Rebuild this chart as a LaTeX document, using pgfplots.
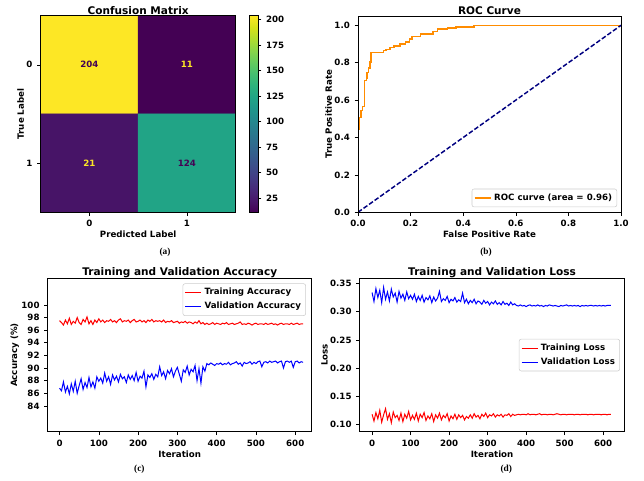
\documentclass[border=0pt]{standalone}
\usepackage{fontspec}
\setmainfont{DejaVu Sans}
\newfontfamily\capfont{Liberation Serif}
\usepackage{pgfplots}
\usepackage{pgfplotstable}
\pgfplotsset{compat=1.18}

\newcommand\tkf{\fontsize{6.5}{7.5}\selectfont\bfseries}
\newcommand\ttf{\fontsize{7.9}{9}\selectfont\bfseries}
\newcommand\capf{\capfont\fontsize{7}{8}\selectfont\bfseries}

\definecolor{darkorange}{HTML}{FF8C00}
\definecolor{mplnavy}{HTML}{000080}
\definecolor{vpurple}{HTML}{440154}
\definecolor{vyellow}{HTML}{FDE725}

\pgfplotsset{
  mpl/.style={
    scale only axis, anchor=south west, axis on top,
    axis line style={black, line width=0.45pt},
    tick align=outside, xtick pos=bottom, ytick pos=left,
    major tick length=2.6pt, tick style={black, line width=0.45pt},
    ticklabel style={font=\tkf}, label style={font=\tkf},
    title style={font=\ttf, at={(0.5,1)}, anchor=base, yshift=-4.8pt},
    ylabel shift=-5pt, xlabel shift=-3.6pt,
    /pgf/number format/assume math mode=true,
    legend style={font=\tkf, draw=black!20, rounded corners=1.5pt, fill=white,
      inner sep=1.5pt, row sep=0pt},
    legend cell align=left,
    legend image code/.code={\draw[##1] (0pt,0pt) -- (12pt,0pt);},
  }
}

% it, train acc, val acc, train loss, val loss
\pgfplotstableread{
it ta va tl vl
0 97.5 86.8 0.118 0.334
5 97.2 86.4 0.106 0.318
10 96.8 87.8 0.121 0.341
15 97.6 86.2 0.110 0.325
20 97.0 87.1 0.125 0.338
25 97.9 85.9 0.104 0.316
30 96.9 87.5 0.117 0.343
35 97.4 86.3 0.128 0.322
40 97.1 87.9 0.109 0.335
45 98.0 86.0 0.119 0.319
50 97.2 87.2 0.103 0.340
55 96.9 88.3 0.122 0.326
60 97.7 86.6 0.112 0.333
65 97.3 87.7 0.116 0.317
70 98.1 86.9 0.107 0.336
75 97.0 88.5 0.120 0.324
80 97.5 87.0 0.105 0.331
85 96.9 87.8 0.118 0.320
90 97.6 86.8 0.111 0.335
95 97.2 88.6 0.123 0.323
100 97.8 87.9 0.108 0.329
105 97.3 88.4 0.116 0.322
110 97.6 87.6 0.109 0.331
115 97.2 89.2 0.120 0.318
120 97.5 87.9 0.106 0.327
125 97.4 88.6 0.118 0.320
130 97.7 87.4 0.112 0.329
135 97.3 88.9 0.121 0.317
140 97.5 88.1 0.107 0.325
145 97.2 88.7 0.115 0.321
150 97.6 87.8 0.110 0.328
155 97.8 89.0 0.119 0.316
160 97.3 88.3 0.105 0.326
165 97.5 88.6 0.117 0.319
170 97.4 87.7 0.111 0.324
175 97.6 88.9 0.120 0.336
180 97.2 88.2 0.108 0.318
185 97.5 88.8 0.116 0.323
190 97.7 88.0 0.112 0.320
195 97.3 89.3 0.119 0.327
200 97.4 87.9 0.106 0.316
205 97.6 88.7 0.115 0.322
210 97.3 88.4 0.110 0.319
215 97.5 89.5 0.118 0.325
220 97.2 87.0 0.109 0.317
225 97.6 88.9 0.117 0.321
230 97.4 88.5 0.112 0.318
235 97.7 89.1 0.116 0.333
240 97.3 88.2 0.108 0.316
245 97.5 89.0 0.114 0.322
250 97.4 88.6 0.111 0.314
255 97.5 90.2 0.117 0.320
260 97.3 88.8 0.111 0.316
265 97.6 89.4 0.119 0.322
270 97.2 88.3 0.113 0.314
275 97.4 89.6 0.116 0.319
280 97.3 89.1 0.110 0.317
285 97.5 89.9 0.118 0.313
290 97.2 88.6 0.114 0.320
295 97.3 89.5 0.120 0.315
300 97.4 90.1 0.112 0.318
305 97.1 89.0 0.117 0.312
310 97.3 87.9 0.115 0.317
315 97.2 89.7 0.119 0.314
320 97.4 89.3 0.113 0.319
325 97.1 90.3 0.117 0.313
330 97.3 88.9 0.115 0.316
335 97.2 89.8 0.118 0.312
340 97.0 89.4 0.113 0.318
345 97.3 90.4 0.117 0.313
350 97.1 88.0 0.116 0.315
355 97.5 89.9 0.119 0.311
360 97.0 87.6 0.114 0.317
365 97.2 90.2 0.118 0.312
370 96.9 89.5 0.116 0.314
375 97.1 90.7 0.117 0.311
380 96.9 90.5 0.118 0.310
385 97.0 90.8 0.117 0.312
390 97.2 90.6 0.118 0.310
395 96.9 90.4 0.118 0.311
400 97.1 90.7 0.117 0.309
405 97.0 90.6 0.119 0.311
410 96.9 90.8 0.117 0.312
415 97.1 90.5 0.118 0.310
420 97.0 90.7 0.118 0.311
425 97.2 90.6 0.117 0.310
430 96.9 90.9 0.118 0.312
435 97.0 90.5 0.119 0.310
440 97.1 90.7 0.117 0.311
445 96.9 90.8 0.118 0.309
450 97.0 91.0 0.118 0.311
455 97.1 90.6 0.117 0.310
460 97.3 90.8 0.118 0.312
465 96.9 90.3 0.118 0.311
470 97.0 90.9 0.117 0.310
475 96.9 90.7 0.118 0.311
480 97.1 90.8 0.119 0.310
485 97.0 91.0 0.118 0.309
490 96.8 90.6 0.117 0.311
495 97.0 90.9 0.118 0.310
500 97.1 90.7 0.118 0.311
505 96.9 91.0 0.117 0.312
510 97.0 91.1 0.118 0.310
515 97.0 90.2 0.118 0.311
520 96.9 90.9 0.118 0.310
525 97.1 91.0 0.117 0.311
530 96.9 90.8 0.118 0.310
535 97.0 91.1 0.118 0.311
540 97.1 90.9 0.117 0.309
545 96.9 91.0 0.118 0.311
550 97.0 91.1 0.118 0.310
555 96.8 90.8 0.118 0.311
560 97.0 91.0 0.117 0.310
565 97.1 91.1 0.118 0.311
570 96.9 90.0 0.118 0.311
575 97.0 91.0 0.117 0.310
580 97.0 91.1 0.118 0.311
585 96.9 90.9 0.118 0.310
590 97.1 91.1 0.118 0.311
595 96.9 90.1 0.117 0.310
600 97.0 91.0 0.118 0.311
605 97.1 91.1 0.118 0.310
610 96.9 90.8 0.117 0.311
615 97.0 91.0 0.118 0.311
620 97.0 90.9 0.118 0.311
}\hist

\begin{document}
\begin{tikzpicture}
\path[use as bounding box] (0,0) rectangle (483pt,360pt);

% (a) confusion matrix
\begin{axis}[mpl, at={(30.5pt,200.8pt)}, width=146.25pt, height=147.45pt,
  title={Confusion Matrix},
  xmin=-0.5, xmax=1.5, ymin=-0.5, ymax=1.5, y dir=reverse,
  xtick={0,1}, ytick={0,1},
  xlabel={Predicted Label}, ylabel={True Label},
  colormap/viridis, point meta min=11, point meta max=204,
  colorbar,
  colorbar style={at={(parent axis.north east)}, anchor=north west,
    xshift=1.9pt, scale only axis, width=6.3pt,
    ytick={25,50,...,200}, ytick pos=right, yticklabel pos=right,
    tick align=outside, major tick length=2.6pt,
    yticklabel style={font=\tkf},
    /pgf/number format/assume math mode=true,
    axis line style={black, line width=0.45pt},
    tick style={black, line width=0.45pt}},
]
\addplot[matrix plot*, mesh/cols=2, point meta=explicit] coordinates {
  (0,0) [204] (1,0) [11]
  (0,1) [21]  (1,1) [124]
};
\node[font=\tkf, text=vpurple] at (axis cs:0,0) {204};
\node[font=\tkf, text=vyellow] at (axis cs:1,0) {11};
\node[font=\tkf, text=vyellow] at (axis cs:0,1) {21};
\node[font=\tkf, text=vpurple] at (axis cs:1,1) {124};
\end{axis}

% (b) ROC curve
\begin{axis}[mpl, at={(268.5pt,200.8pt)}, width=197.25pt, height=147.2pt,
  title={ROC Curve},
  xmin=0, xmax=1, ymin=0, ymax=1.05,
  xtick={0,0.2,...,1.0}, ytick={0,0.2,...,1.0},
  xticklabel style={/pgf/number format/.cd, fixed, fixed zerofill, precision=1},
  yticklabel style={/pgf/number format/.cd, fixed, fixed zerofill, precision=1},
  xlabel={False Positive Rate}, ylabel={True Positive Rate},
  legend style={at={(0.985,0.026)}, anchor=south east},
]
\addplot[darkorange, line width=1.1pt] coordinates {
  (0,0) (0,0.445) (0.005,0.445) (0.005,0.508) (0.011,0.508) (0.011,0.544)
  (0.017,0.544) (0.017,0.567) (0.025,0.567) (0.025,0.706) (0.032,0.706)
  (0.032,0.719) (0.034,0.719) (0.034,0.748) (0.040,0.748) (0.040,0.773)
  (0.045,0.773) (0.045,0.805) (0.049,0.805) (0.049,0.856) (0.096,0.856)
  (0.096,0.865) (0.107,0.865) (0.107,0.872) (0.122,0.872) (0.122,0.881)
  (0.137,0.881) (0.137,0.890) (0.160,0.890) (0.160,0.900) (0.180,0.900)
  (0.180,0.910) (0.196,0.910) (0.196,0.928) (0.205,0.928) (0.205,0.940)
  (0.237,0.940) (0.237,0.953) (0.285,0.953) (0.285,0.968) (0.303,0.968)
  (0.303,0.980) (0.340,0.980) (0.340,0.985) (0.372,0.985) (0.372,0.992)
  (0.441,0.992) (0.441,1.0) (1,1)
};
\addlegendentry{ROC curve (area = 0.96)}
\addplot[mplnavy, line width=1.1pt, dash pattern=on 3.5pt off 1.6pt, forget plot]
  coordinates {(0,0) (1,1)};
\end{axis}

% (c) accuracy
\begin{axis}[mpl, at={(35.8pt,36.2pt)}, width=198pt, height=115pt,
  title={Training and Validation Accuracy}, title style={yshift=1.3pt},
  xmin=-30, xmax=642, ymin=79.9, ymax=104.2,
  xtick={0,100,...,600}, ytick={84,86,...,100},
  xlabel={Iteration}, ylabel={Accuracy (\%)},
  legend style={at={(0.978,0.967)}, anchor=north east},
]
\addplot[red, line width=0.75pt] table[x=it, y=ta] {\hist};
\addlegendentry{Training Accuracy}
\addplot[blue, line width=0.75pt] table[x=it, y=va] {\hist};
\addlegendentry{Validation Accuracy}
\end{axis}

% (d) loss
\begin{axis}[mpl, at={(269.8pt,36.2pt)}, width=198.5pt, height=115pt,
  title={Training and Validation Loss}, title style={yshift=1.3pt},
  xmin=-32, xmax=655, ymin=0.087, ymax=0.359,
  xtick={0,100,...,600}, ytick={0.10,0.15,...,0.36},
  yticklabel style={/pgf/number format/.cd, fixed, fixed zerofill, precision=2},
  xlabel={Iteration}, ylabel={Loss},
  legend style={at={(0.983,0.5)}, anchor=east},
]
\addplot[red, line width=0.75pt] table[x=it, y=tl] {\hist};
\addlegendentry{Training Loss}
\addplot[blue, line width=0.75pt] table[x=it, y=vl] {\hist};
\addlegendentry{Validation Loss}
\end{axis}

\node[font=\capf] at (123.75pt,171pt) {(a)};
\node[font=\capf] at (364.5pt,171pt) {(b)};
\node[font=\capf] at (104.5pt,8pt) {(c)};
\node[font=\capf] at (379.7pt,8pt) {(d)};
\end{tikzpicture}
\end{document}
